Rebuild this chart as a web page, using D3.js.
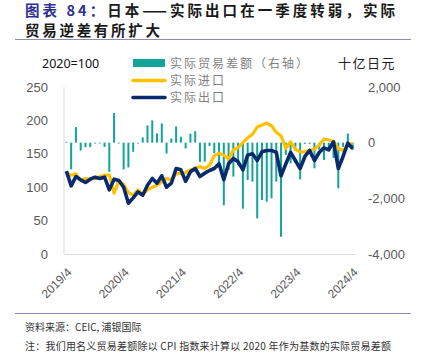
<!DOCTYPE html>
<html><head><meta charset="utf-8">
<script src="https://cdn.jsdelivr.net/npm/d3@7"></script>
<style>body{margin:0;background:#fff}svg{display:block}</style>
</head><body>
<script>
// ---- data ----
const months = [];
for (let i = 0; i < 61; i++) { const m = 3 + i; months.push((2019 + Math.floor(m / 12)) + "/" + (m % 12 + 1)); }
const tickLabels = ["2019/4", "2020/4", "2021/4", "2022/4", "2023/4", "2024/4"];
const leftTicks = [0, 50, 100, 150, 200, 250];
const rightTicks = [-4000, -2000, 0, 2000];
const tradeBalance = [30, -960, 560, -280, -160, -160, -30, -20, -150, -1050,
  1070, -10, -960, -890, -330, -20, 190, 620, 800, 330,
  690, -390, 150, 580, 210, -210, 320, 410, -690, -680,
  -120, -380, -740, -2250, -980, -1220, -800, -2370, -1340, -1400,
  -2720, -2060, -2120, -2000, -1400, -3380, -440, -740, -300, -1320,
  -40, -40, -920, -250, -620, -300, -550, -1640, -150, 330, -260];
const realImports = [120, 118, 120, 110, 113, 112, 113, 116, 118, 118,
  91, 110, 104, 92, 88, 96, 89, 96, 100, 103,
  108, 113, 111, 120, 121, 122, 126, 128, 131, 128,
  133, 147, 151, 148, 142, 156, 159, 167, 174, 179,
  190, 193, 196, 192, 182, 177, 158, 168, 157, 153,
  153, 155, 157, 163, 172, 171, 168, 158, 155, 163, 166];
const realExports = [124, 102, 116, 111, 107, 112, 115, 113, 115, 96,
  112, 110, 100, 76, 84, 93, 88, 103, 113, 106,
  117, 100, 106, 128, 126, 109, 123, 128, 116, 121,
  125, 128, 135, 111, 135, 143, 138, 126, 148, 150,
  140, 153, 155, 155, 152, 117, 135, 152, 140, 128,
  146, 155, 140, 152, 159, 156, 168, 128, 146, 166, 158];
const legendLabels = ["实际贸易差额（右轴）", "实际进口", "实际出口"];

// ---- chart ----
const W = 423, H = 356;
const svg = d3.select("body").append("svg").attr("width", W).attr("height", H)
  .style("font-family", "'Noto Sans', 'Noto Sans CJK SC', sans-serif");

const cjk = "'Noto Sans CJK SC', sans-serif";
const L = 64, R = 355, T = 87, B = 254;

// title
const t1 = svg.append("text").attr("x", 25).attr("y", 16).attr("font-size", 14.5).attr("font-weight", 700)
  .attr("font-family", cjk).attr("textLength", 370).attr("lengthAdjust", "spacing");
t1.append("tspan").attr("fill", "#2E3192").text("图表 84：");
t1.append("tspan").attr("fill", "#1a1a1a").text("日本——实际出口在一季度转弱，实际");
svg.append("text").attr("x", 25).attr("y", 36).attr("font-size", 14.5).attr("font-weight", 700)
  .attr("font-family", cjk).attr("fill", "#1a1a1a").attr("textLength", 135).attr("lengthAdjust", "spacing")
  .text("贸易逆差有所扩大");
svg.append("line").attr("x1", 15).attr("x2", 411).attr("y1", 39.5).attr("y2", 39.5)
  .attr("stroke", "#8c8cb4").attr("stroke-width", 1);

// scales
const x = d3.scaleBand().domain(months).range([L, R]).paddingInner(0.58).paddingOuter(0.29);
const xc = d => x(d) + x.bandwidth() / 2;
const yL = d3.scaleLinear().domain([0, 250]).range([B, T]);
const yR = d3.scaleLinear().domain([-4000, 2000]).range([B, T]);

// axis frame lines
svg.append("line").attr("x1", L).attr("x2", L).attr("y1", T).attr("y2", B).attr("stroke", "#d9d9d9");

// left axis
const gl = svg.append("g").attr("transform", `translate(${L},0)`)
  .call(d3.axisLeft(yL).tickValues(leftTicks).tickSize(0).tickPadding(16));
gl.select(".domain").remove();
gl.selectAll("text").attr("fill", "#595959").attr("font-size", 13);

// right axis
const fmt = d => d3.format(",")(d).replace("\u2212", "-");
const gr = svg.append("g").attr("transform", `translate(${R},0)`)
  .call(d3.axisRight(yR).tickValues(rightTicks).tickFormat(fmt).tickSize(0).tickPadding(13));
gr.select(".domain").remove();
gr.selectAll("text").attr("fill", "#595959").attr("font-size", 13);

// bottom axis
const gb = svg.append("g").attr("transform", `translate(0,${B})`)
  .call(d3.axisBottom(x).tickValues(tickLabels).tickSize(0).tickFormat(d => d));
gb.select(".domain").attr("stroke", "#d9d9d9");
gb.selectAll("text").attr("fill", "#595959").attr("font-size", 12)
  .attr("text-anchor", "end").attr("dy", 0).attr("y", 0)
  .attr("transform", "translate(6,19) rotate(-45)");

// bars
svg.append("g").selectAll("rect").data(months).join("rect")
  .attr("x", d => x(d))
  .attr("width", x.bandwidth())
  .attr("y", (d, i) => Math.min(yR(0), yR(tradeBalance[i])))
  .attr("height", (d, i) => Math.max(0.8, Math.abs(yR(tradeBalance[i]) - yR(0))))
  .attr("fill", "#14A39A");

// lines
const line = arr => d3.line().x((d, i) => xc(months[i])).y(d => yL(d))(arr);
svg.append("path").attr("d", line(realImports)).attr("fill", "none")
  .attr("stroke", "#FFC000").attr("stroke-width", 3.2).attr("stroke-linejoin", "round");
svg.append("path").attr("d", line(realExports)).attr("fill", "none")
  .attr("stroke", "#0A2A6E").attr("stroke-width", 3.6).attr("stroke-linejoin", "round");

// unit labels
svg.append("text").attr("x", 42).attr("y", 68).attr("font-size", 12.5).attr("fill", "#111").text("2020=100");
svg.append("text").attr("x", 338).attr("y", 68).attr("font-size", 13).attr("font-family", cjk)
  .attr("fill", "#222").attr("letter-spacing", 1.5).text("十亿日元");

// legend
const lg = svg.append("g");
lg.append("rect").attr("x", 133).attr("y", 59).attr("width", 32).attr("height", 8).attr("fill", "#14A39A");
lg.append("line").attr("x1", 133).attr("x2", 165).attr("y1", 80.5).attr("y2", 80.5)
  .attr("stroke", "#FFC000").attr("stroke-width", 3.5).attr("stroke-linecap", "round");
lg.append("line").attr("x1", 133).attr("x2", 165).attr("y1", 97.5).attr("y2", 97.5)
  .attr("stroke", "#0A2A6E").attr("stroke-width", 3.5).attr("stroke-linecap", "round");
legendLabels.forEach((t, i) => {
  lg.append("text").attr("x", 170).attr("y", 68 + i * 17).attr("font-size", 12).attr("font-family", cjk)
    .attr("fill", "#7f7f7f").attr("letter-spacing", 2).text(t);
});

// footer
svg.append("line").attr("x1", 15).attr("x2", 411).attr("y1", 313.5).attr("y2", 313.5)
  .attr("stroke", "#8c8cb4").attr("stroke-width", 1);
svg.append("text").attr("x", 25).attr("y", 331).attr("font-size", 10).attr("font-family", cjk)
  .attr("fill", "#333").text("资料来源：CEIC, 浦银国际");
svg.append("text").attr("x", 25).attr("y", 350).attr("font-size", 10).attr("font-family", cjk)
  .attr("fill", "#333").attr("textLength", 366).attr("lengthAdjust", "spacing")
  .text("注：我们用名义贸易差额除以 CPI 指数来计算以 2020 年作为基数的实际贸易差额");
</script>
</body></html>
